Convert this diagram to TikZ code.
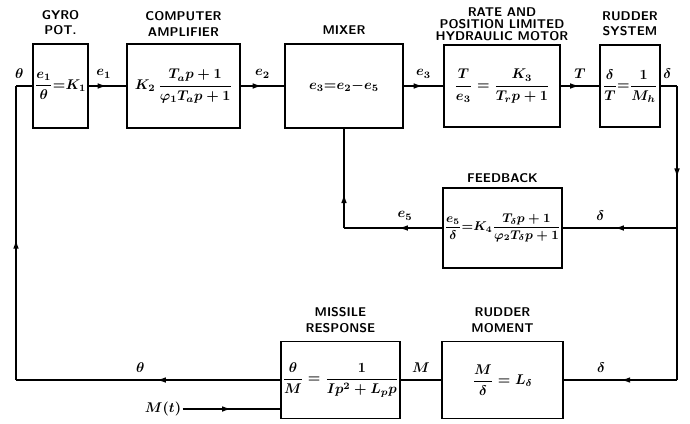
\documentclass[tikz,border=0pt]{standalone}
\usepackage{amsmath}
\usepackage{amssymb}
\usepackage{tikz}
\usetikzlibrary{arrows.meta, positioning, decorations.markings}

\begin{document}
\begin{tikzpicture}[x=0.025cm, y=-0.025cm,
    block/.style={draw, line width=0.9pt, minimum height=2.1cm, inner sep=1pt, font=\normalsize\boldmath},
    title/.style={font=\sffamily\bfseries\small, align=center, inner sep=1pt, text depth=0pt},
    sig/.style={font=\normalsize\boldmath, inner sep=1pt},
    wire/.style={line width=1.3pt},
    midarrow/.style={wire, postaction={decorate},
        decoration={markings, mark=at position #1 with {\arrow{Latex[length=7pt,width=4pt]}}}},
    midarrow/.default=0.5]
    \useasboundingbox (0,0) rectangle (690,423);

    % Forward path blocks
    \node[block, minimum width=1.375cm] (gyro) at (60.5,86) {$\dfrac{e_1}{\theta}{=}K_1$};
    \node[block, minimum width=2.825cm] (amp) at (183.5,86) {$K_2\,\dfrac{T_a p+1}{\varphi_1 T_a p+1}$};
    \node[block, minimum width=2.95cm] (mixer) at (344,86) {$e_3{=}e_2{-}e_5$};
    \node[block, minimum width=2.9cm, minimum height=2.05cm] (motor) at (502,86) {$\dfrac{T}{e_3}=\dfrac{K_3}{T_r p+1}$};
    \node[block, minimum width=1.5cm, minimum height=2.05cm] (rudsys) at (630,86) {$\dfrac{\delta}{T}{=}\dfrac{1}{M_h}$};

    % Feedback block
    \node[block, minimum width=2.975cm, minimum height=2cm, font=\small\boldmath] (fback) at (502.5,228) {$\dfrac{e_5}{\delta}{=}K_4\dfrac{T_\delta p+1}{\varphi_2 T_\delta p+1}$};

    % Missile blocks
    \node[block, minimum width=2.975cm, minimum height=1.925cm] (missile) at (340.5,380) {$\dfrac{\theta}{M}=\dfrac{1}{I p^2+L_p p}$};
    \node[block, minimum width=3.025cm, minimum height=1.925cm] (moment) at (502.5,380) {$\dfrac{M}{\delta}=L_\delta$};

    % Titles
    \node[title, above=5pt of gyro] (tgyro) {GYRO\\POT.};
    \node[title, above=4pt of amp] (tamp) {COMPUTER\\AMPLIFIER};
    \node[title, above=5pt of mixer] (tmixer) {MIXER};
    \node[title, above=1.5pt of motor] (tmotor) {RATE AND\\[-2.5pt]POSITION LIMITED\\[-2.5pt]HYDRAULIC MOTOR};
    \node[title, above=5pt of rudsys] (trudsys) {RUDDER\\SYSTEM};
    \node[title, above=2pt of fback] (tfback) {FEEDBACK};
    \node[title, above=5pt of missile] (tmissile) {MISSILE\\RESPONSE};
    \node[title, above=5pt of moment] (tmoment) {RUDDER\\MOMENT};

    % Corner points
    \coordinate (tl) at (16,86);
    \coordinate (bl) at (16,380);
    \coordinate (tr) at (677,86);
    \coordinate (fr) at (677,228);
    \coordinate (br) at (677,380);
    \coordinate (fl) at (mixer.south |- fback.west);
    \coordinate (mtin) at (281,409);

    % Forward path
    \draw[wire] (tl) -- node[sig, above=4pt, pos=0.2] (lth) {$\theta$} (gyro);
    \draw[midarrow] (gyro) -- node[sig, above=4pt, pos=0.4] (le1) {$e_1$} (amp);
    \draw[midarrow] (amp) -- node[sig, above=4pt, pos=0.5] (le2) {$e_2$} (mixer);
    \draw[midarrow] (mixer) -- node[sig, above=4pt, pos=0.5] (le3) {$e_3$} (motor);
    \draw[midarrow] (motor) -- node[sig, above=4pt, pos=0.5] (lT) {$T$} (rudsys);
    \draw[wire] (rudsys) -- node[sig, above=4pt, pos=0.4] (ld1) {$\delta$} (tr);

    % Feedback loop
    \draw[midarrow=0.65] (tr) -- (fr);
    \draw[wire] (fr) -- (br);
    \draw[midarrow=0.55] (fr) -- node[sig, above=4pt, pos=0.67] (ld2) {$\delta$} (fback);
    \draw[midarrow=0.45] (fback) -- node[sig, above=4pt, pos=0.38] (le5) {$e_5$} (fl);
    \draw[midarrow=0.35] (fl) -- (mixer);

    % Missile loop
    \draw[midarrow=0.5] (br) -- node[sig, above=4pt, pos=0.67] (ld3) {$\delta$} (moment);
    \draw[wire] (moment) -- node[sig, above=4pt, pos=0.5] (lM) {$M$} (missile);
    \draw[midarrow=0.47] (missile) -- node[sig, above=4pt, pos=0.53] (lth2) {$\theta$} (bl);
    \draw[midarrow=0.48] (bl) -- (tl);

    % Disturbance input
    \node[sig] (mt) at (163,409) {$M(t)$};
    \draw[midarrow=0.5] (mt) -- (mtin);
\end{tikzpicture}
\end{document}
